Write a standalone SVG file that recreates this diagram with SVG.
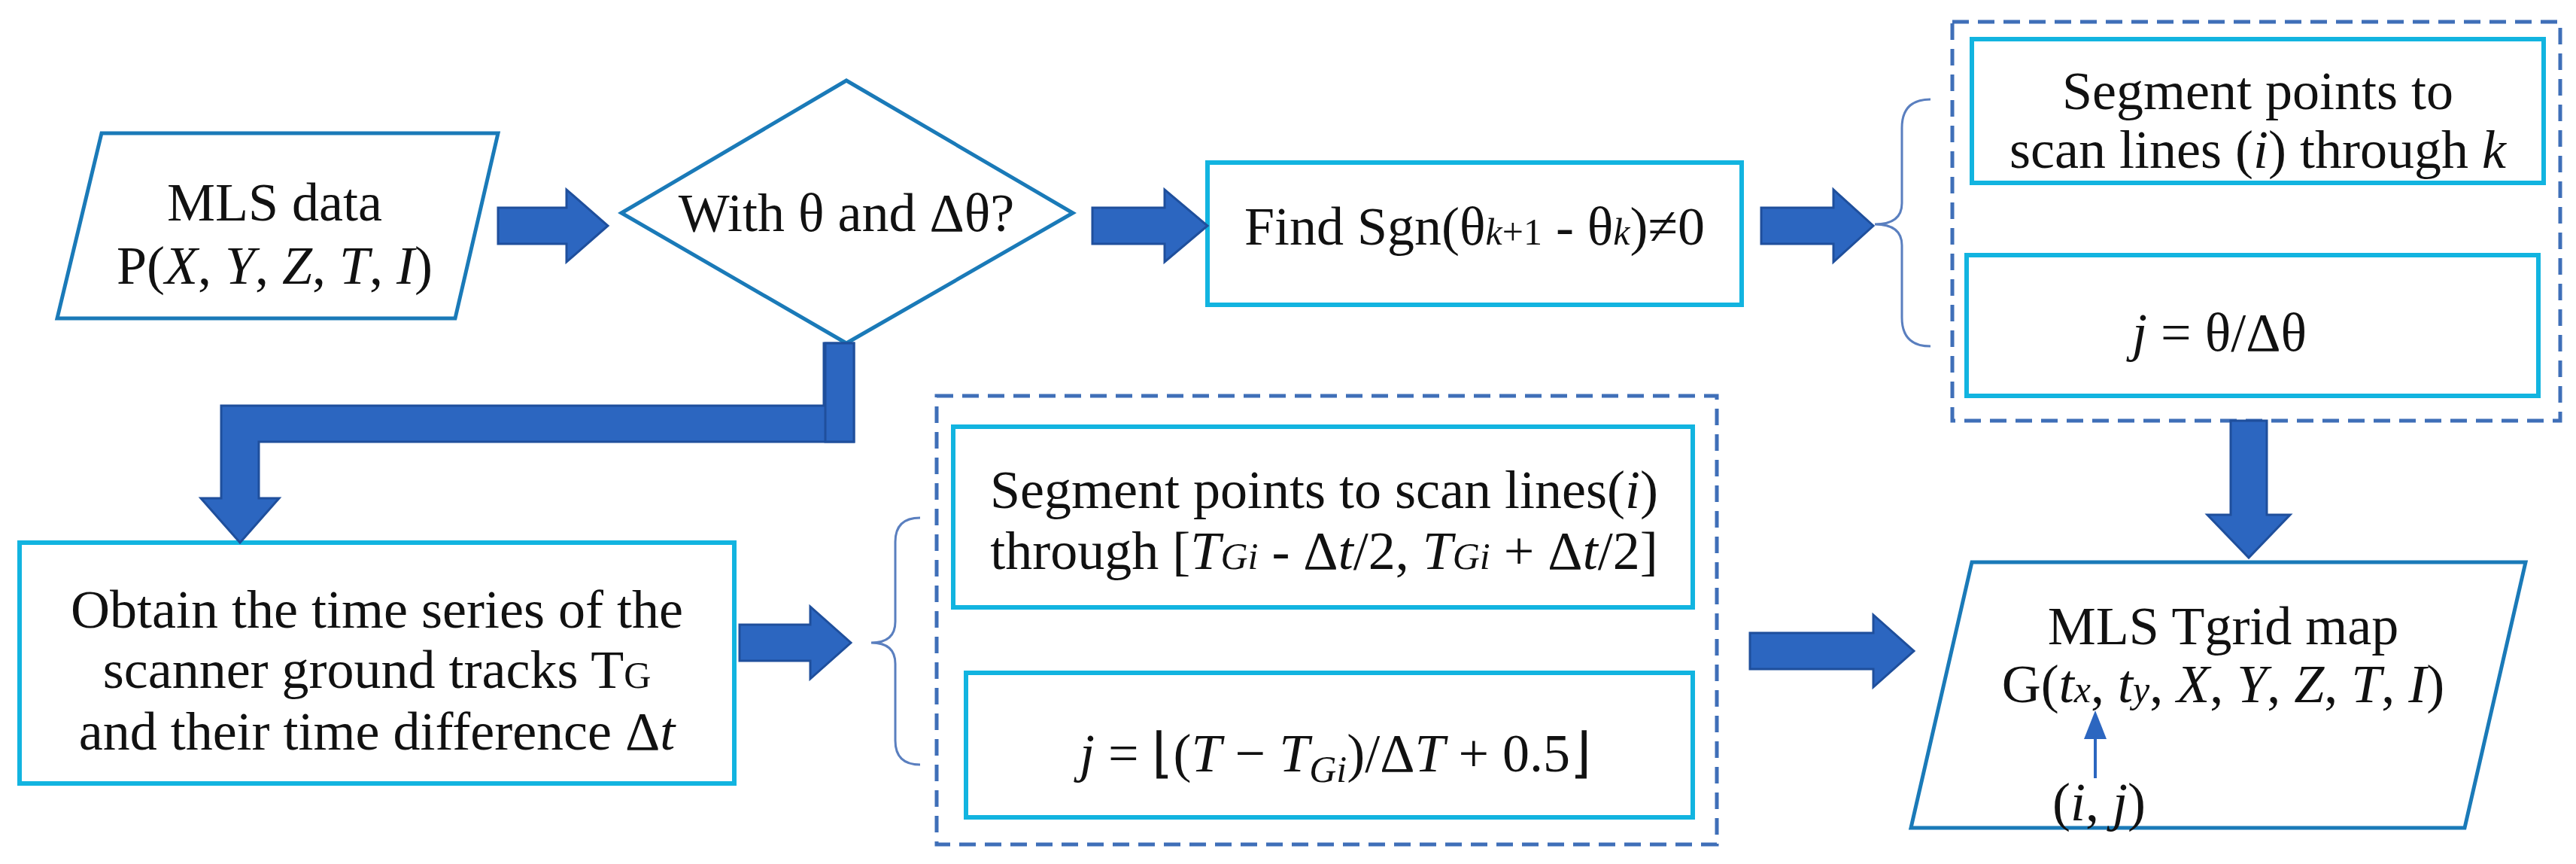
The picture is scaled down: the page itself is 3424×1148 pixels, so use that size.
<svg xmlns="http://www.w3.org/2000/svg" width="3424" height="1148" viewBox="0 0 3424 1148">
<style>
.t{font-family:"Liberation Serif","Times New Roman",serif;font-size:72px;fill:#111;text-anchor:middle}
.i{font-style:italic}
.s{font-size:50px}
.box{fill:#fff;stroke:#12B4E0;stroke-width:6}
.para{fill:#fff;stroke:#1A7AB8;stroke-width:5}
.arr{fill:#2C66C0;stroke:#1F4F9C;stroke-width:3}
.dash{fill:none;stroke:#3F6FB8;stroke-width:5;stroke-dasharray:22 12}
.brace{fill:none;stroke:#5A7FBF;stroke-width:3}
</style>
<rect width="3424" height="1148" fill="#fff"/>
<g id="group-top" ><rect class="dash" x="2595" y="29" width="808" height="530"/></g>
<g id="group-bottom"><rect class="dash" x="1245" y="526" width="1037" height="596"/></g>
<g id="mls-data">
<polygon class="para" points="135,177 662,177 605,423 76,423"/>
<text class="t" x="365" y="293">MLS data</text>
<text class="t" x="365" y="377">P(<tspan class="i">X</tspan>, <tspan class="i">Y</tspan>, <tspan class="i">Z</tspan>, <tspan class="i">T</tspan>, <tspan class="i">I</tspan>)</text>
</g>
<g id="decision">
<polygon class="para" points="826,283 1125,107 1426,283 1125,456"/>
<text class="t" x="1125" y="307">With θ and Δθ?</text>
</g>
<g id="find-sgn">
<rect class="box" x="1605" y="216" width="710" height="189"/>
<text class="t" x="1960" y="325">Find Sgn(θ<tspan class="i s">k</tspan><tspan class="s">+1</tspan> - θ<tspan class="i s">k</tspan>)≠0</text>
</g>
<g id="seg-top">
<rect class="box" x="2621" y="52" width="760" height="191"/>
<text class="t" x="3001" y="145">Segment points to</text>
<text class="t" x="3001" y="223">scan lines (<tspan class="i">i</tspan>) through <tspan class="i">k</tspan></text>
</g>
<g id="j-theta">
<rect class="box" x="2614" y="339" width="760" height="187"/>
<text class="t" x="2950" y="466"><tspan class="i">j</tspan> = θ/Δθ</text>
</g>
<g id="obtain">
<rect class="box" x="26" y="721" width="950" height="320"/>
<text class="t" x="501" y="834">Obtain the time series of the</text>
<text class="t" x="501" y="914">scanner ground  tracks T<tspan class="s">G</tspan></text>
<text class="t" x="501" y="996">and their time difference Δ<tspan class="i">t</tspan></text>
</g>
<g id="seg-bottom">
<rect class="box" x="1267" y="567" width="983" height="240"/>
<text class="t" x="1760" y="675">Segment points to scan lines(<tspan class="i">i</tspan>)</text>
<text class="t" x="1760" y="756">through [<tspan class="i">T</tspan><tspan class="i s">Gi</tspan> - Δ<tspan class="i">t</tspan>/2, <tspan class="i">T</tspan><tspan class="i s">Gi</tspan> + Δ<tspan class="i">t</tspan>/2]</text>
</g>
<g id="j-formula">
<rect class="box" x="1284" y="894" width="966" height="192"/>
<text class="t" x="1775" y="1025"><tspan class="i">j</tspan> = ⌊(<tspan class="i">T</tspan> − <tspan class="i">T</tspan><tspan class="i s" dy="14">Gi</tspan><tspan dy="-14">)/Δ</tspan><tspan class="i">T</tspan> + 0.5⌋</text>
</g>
<g id="tgrid">
<polygon class="para" points="2621,747 3357,747 3276,1100 2540,1100"/>
<text class="t" x="2955" y="856">MLS Tgrid map</text>
<text class="t" x="2955" y="933">G(<tspan class="i">t</tspan><tspan class="i s">x</tspan>, <tspan class="i">t</tspan><tspan class="i s">y</tspan>, <tspan class="i">X</tspan>, <tspan class="i">Y</tspan>, <tspan class="i">Z</tspan>, <tspan class="i">T</tspan>, <tspan class="i">I</tspan>)</text>
<text class="t" x="2790" y="1090">(<tspan class="i">i</tspan>, <tspan class="i">j</tspan>)</text>
</g>
<g id="connectors">
<polygon class="arr" points="662,276 753,276 753,252 808,300 753,348 753,324 662,324"/>
<polygon class="arr" points="1452,276 1548,276 1548,252 1605,300 1548,348 1548,324 1452,324"/>
<polygon class="arr" points="2341,276 2437,276 2437,252 2490,300 2437,348 2437,324 2341,324"/>
<polygon class="arr" points="983,830 1077,830 1077,806 1131,854 1077,902 1077,878 983,878"/>
<polygon class="arr" points="2326,841 2490,841 2490,817 2544,865 2490,913 2490,889 2326,889"/>
<polygon class="arr" points="2965,559 3013,559 3013,684 3044,684 2989,741 2934,684 2965,684"/>
<polygon class="arr" points="1095,456 1135,456 1135,587 344,587 344,662 371,662 319,721 267,662 294,662 294,539 1095,539"/>
<rect class="arr" x="1097" y="456" width="38" height="131"/>
<line x1="2785" y1="1034" x2="2785" y2="980" stroke="#2C66C0" stroke-width="4"/>
<polygon points="2785,944 2770,982 2800,982" fill="#2C66C0"/>
<path class="brace" d="M2566,132 Q2528,132 2528,170 L2528,270 Q2528,298 2492,298 Q2528,298 2528,326 L2528,422 Q2528,460 2566,460"/>
<path class="brace" d="M1223,688 Q1190,688 1190,720 L1190,826 Q1190,854 1158,854 Q1190,854 1190,882 L1190,984 Q1190,1016 1223,1016"/>
</g>
</svg>
